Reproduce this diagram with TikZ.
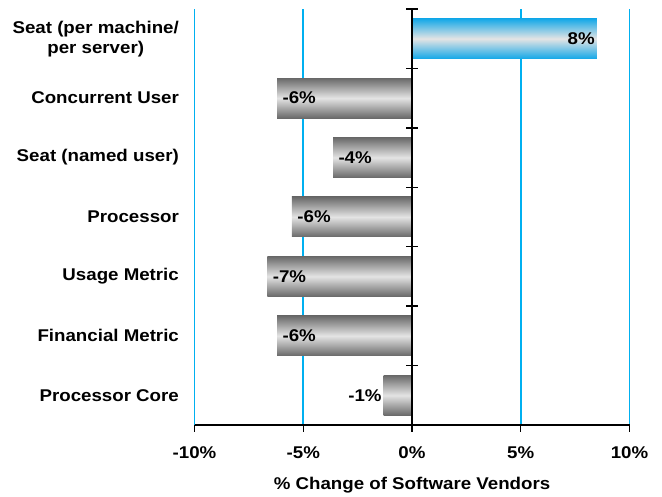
\documentclass[tikz,border=0pt]{standalone}
\usepackage{fontspec}
\setmainfont{Liberation Sans}[FakeStretch=1.1]
\usetikzlibrary{positioning}
\definecolor{gridblue}{RGB}{0,176,240}
\definecolor{bardark}{RGB}{105,105,105}
\definecolor{barlight}{RGB}{228,228,228}
\definecolor{barblue}{RGB}{20,168,232}

\begin{document}
\begin{tikzpicture}[x=21.75pt, y=59.43pt, font=\bfseries\fontsize{17}{20}\selectfont,
    catlabel/.style={anchor=east, align=center, inner sep=0pt},
    graybar/.style={top color=bardark, bottom color=bardark, middle color=barlight},
    bluebar/.style={top color=barblue, bottom color=barblue, middle color=barlight}]
  \useasboundingbox (-18.943,-1.2115) rectangle (11.494,7.151);

  % vertical grid lines
  \foreach \v in {-10,-5,5,10}
    \draw[gridblue, line width=1.6pt] (\v,0) -- (\v,7);

  % first category, the only positive one
  \shade[bluebar] (0,6.1635) rectangle (8.5,6.8365);
  \node[anchor=east, inner sep=2pt] (val1) at (8.5,6.5) {8\%};
  \node[catlabel] (cat1) at (-10.71,6.5) {Seat (per machine/\\per server)};

  \foreach \v/\txt/\cat [count=\i from 2] in {-6.2/-6\%/{Concurrent User},
      -3.63/-4\%/{Seat (named user)}, -5.52/-6\%/{Processor},
      -6.65/-7\%/{Usage Metric}, -6.2/-6\%/{Financial Metric}}
  {
    \shade[graybar] (\v,{7.1635-\i}) rectangle (0,{7.8365-\i});
    \node[anchor=west, inner sep=2pt] (val\i) at (\v+0.15,{7.5-\i}) {\txt};
    \node[catlabel] (cat\i) at (-10.71,{7.5-\i}) {\cat};
  }

  % last one is too short for its label
  \shade[graybar] (-1.3,0.1635) rectangle (0,0.8365);
  \node[anchor=east, inner sep=2pt] (val7) at (-1.3,0.5) {-1\%};
  \node[catlabel] (cat7) at (-10.71,0.5) {Processor Core};

  % axes
  \draw[line width=1.6pt] (-10,0) -- (10,0);
  \draw[line width=1.6pt] (0,0) -- (0,7);
  \foreach \k in {1,...,7}
    \draw[line width=1.4pt] (-0.276,\k) -- (0.276,\k);
  \foreach \v in {-10,-5,0,5,10}
  {
    \draw[line width=1.4pt] (\v,0) -- (\v,-0.118);
    \node (tick\v) at (\v,-0.471) {\v\%};
  }
  \node (xtitle) at (0,-1.01) {\% Change of Software Vendors};
\end{tikzpicture}
\end{document}
